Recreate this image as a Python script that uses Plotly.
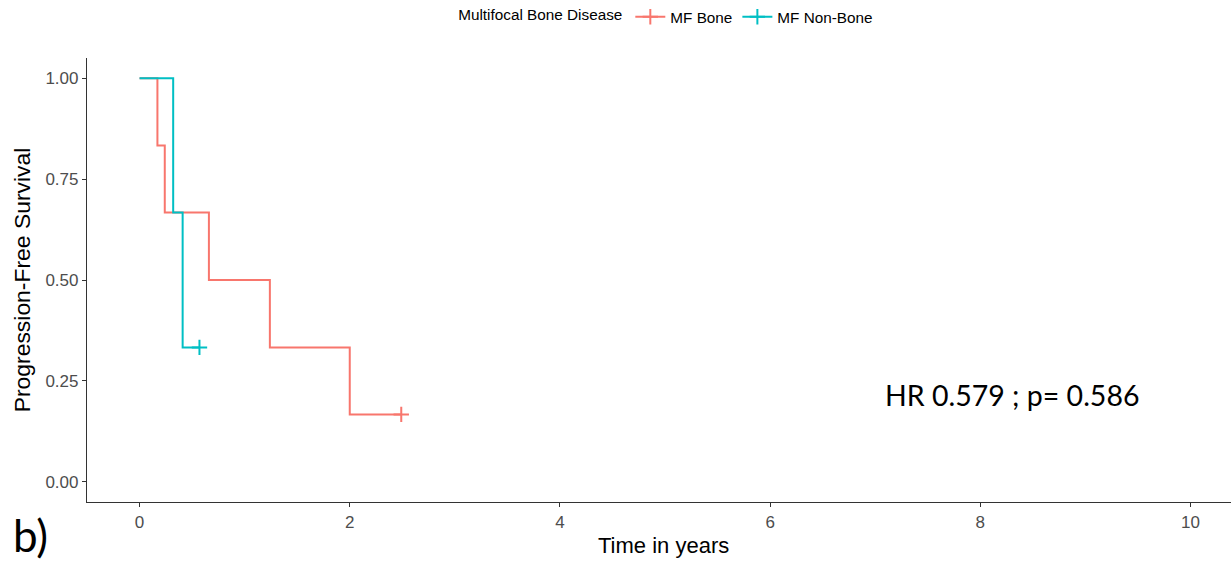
import plotly.graph_objects as go

# Data
groups = ["MF Bone", "MF Non-Bone"]
colors = ["#F8766D", "#00BFC4"]
bone_time = [0, 0.17, 0.24, 0.66, 1.24, 2.0, 2.49]
bone_surv = [1.0, 0.833, 0.667, 0.5, 0.333, 0.167, 0.167]
nonbone_time = [0, 0.32, 0.41, 0.57]
nonbone_surv = [1.0, 0.667, 0.333, 0.333]
censor_bone_time = [2.49]
censor_bone_surv = [0.167]
censor_nonbone_time = [0.57]
censor_nonbone_surv = [0.333]
x_ticks = [0, 2, 4, 6, 8, 10]
y_ticks = [0, 0.25, 0.5, 0.75, 1.0]
y_tick_labels = ["0.00", "0.25", "0.50", "0.75", "1.00"]
stat_text = "HR 0.579 ; p= 0.586"

series = [
    (groups[0], colors[0], bone_time, bone_surv, censor_bone_time, censor_bone_surv),
    (groups[1], colors[1], nonbone_time, nonbone_surv, censor_nonbone_time, censor_nonbone_surv),
]

fig = go.Figure()
for name, col, t, s, ct, cs in series:
    fig.add_trace(go.Scatter(x=t, y=s, mode="lines", line=dict(color=col, width=2, shape="hv"),
                             showlegend=False, name=name))
    fig.add_trace(go.Scatter(x=ct, y=cs, mode="markers",
                             marker=dict(symbol="cross-thin", size=11, line=dict(color=col, width=2)),
                             showlegend=False, name=name))
for name, col, *_ in series:
    fig.add_trace(go.Scatter(x=[None], y=[None], mode="lines+markers", name=name,
                             line=dict(color=col, width=2),
                             marker=dict(symbol="cross-thin", size=11, color=col, line=dict(color=col, width=2))))

axis_common = dict(showgrid=False, zeroline=False, showline=True, linecolor="#333333", linewidth=1.2,
                   ticks="outside", ticklen=4, tickcolor="#333333", tickwidth=1.2,
                   tickfont=dict(family="Liberation Sans", size=17, color="#4D4D4D"))

fig.update_layout(
    width=1231, height=561,
    margin=dict(l=87, r=0, t=58, b=59),
    paper_bgcolor="white", plot_bgcolor="white",
    font=dict(family="Liberation Sans", color="black"),
    xaxis=dict(range=[-0.5, 10.385], tickvals=x_ticks, **axis_common),
    yaxis=dict(range=[-0.05, 1.05], tickvals=y_ticks, ticktext=y_tick_labels,
               title=dict(text="Progression-Free Survival", font=dict(size=22.9, color="black"), standoff=8),
               **axis_common),
    legend=dict(orientation="h", xref="container", yref="container", x=0.542, xanchor="center",
                y=0.97, yanchor="middle", font=dict(size=15.3, color="black"),
                title=dict(text="Multifocal Bone Disease", font=dict(size=15.3, color="black")),
                itemwidth=30),
    annotations=[
        dict(text="Time in years", xref="paper", yref="paper", x=0.504, y=-0.099, showarrow=False,
             xanchor="center", yanchor="middle", font=dict(family="Liberation Sans", size=22, color="black")),
        dict(text=stat_text, xref="x", yref="y", x=8.30, y=0.215, showarrow=False,
             font=dict(family="Lato", size=28.5, color="black"), xanchor="center", yanchor="middle"),
        dict(text="b)", xref="paper", yref="paper", x=-0.066, y=-0.137, xanchor="left", yanchor="bottom",
             showarrow=False, font=dict(family="Lato", size=44, color="black")),
    ],
)
fig.write_html("out.html", config={"displayModeBar": False},
               post_script="document.body.style.margin='0';document.body.style.overflow='hidden';")
